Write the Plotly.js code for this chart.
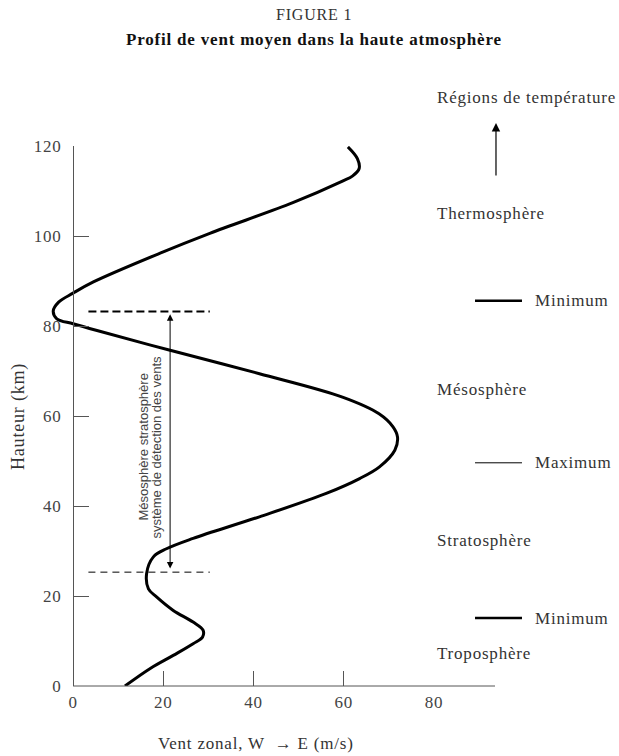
<!DOCTYPE html>
<html>
<head>
<meta charset="utf-8">
<script src="https://cdn.plot.ly/plotly-3.0.1.min.js"></script>
<style>
html,body{margin:0;padding:0;background:#fff;}
#chart{width:619px;height:756px;}
text.annotation-text[style*="Serif"], .xtick text, .ytick text { letter-spacing: 0.8px; }
</style>
</head>
<body>
<div id="chart"></div>
<script>
// ---- Data ----
// Mean zonal wind profile (altitude in km, wind in m/s, W -> E positive)
const heightKm = [0, 3.9, 6.8, 9.4, 10.9, 12.4, 14.2, 16.8, 19.8, 21.6, 25.0, 28.7, 30.5, 32.8, 37.6, 42.8, 46.1, 48.7, 52.4, 55.3, 57.6, 60.5, 64.2, 69.4, 74.6, 79.0, 80.5, 81.6, 83.3, 85.3, 87.3, 89.8, 96.2, 100.6, 107.4, 112.2, 113.3, 115.0, 117.2, 119.8];
const windMs   = [11.5, 17.1, 22.2, 26.6, 28.7, 28.8, 26.6, 22.2, 18.5, 16.7, 16.3, 17.8, 20.7, 26.6, 41.3, 56.1, 63.5, 67.9, 71.3, 71.9, 70.9, 67.8, 59.7, 41.3, 21.5, 5.3, 0, -3.6, -4.4, -3.2, 0, 4.5, 19.3, 30.3, 48.7, 59.7, 61.9, 63.4, 63.0, 60.9];

// Wind-detection system layers (dashed lines) and their span along the wind axis
const detectionTopKm = 83.2;
const detectionBottomKm = 25.3;
const detectionSpan = [3.4, 30.3];
const detectionArrowWind = 21.5;
const detectionLabel = ["Mésosphère stratosphère", "système de détection des vents"];
const detectionLabelWind = [15.5, 18.4];
const detectionLabelHeight = 53;

// Temperature regions (right side)
const tempLevelKm = [85.6, 49.6, 15.1];
const tempLevelName = ["Minimum", "Maximum", "Minimum"];
const tempLevelWidth = [2.5, 1, 2.5];
const regionName = ["Troposphère", "Stratosphère", "Mésosphère", "Thermosphère"];
const regionKm = [7.3, 32.4, 65.8, 105.1];

// Axes
const xTickVals = [0, 20, 40, 60, 80];
const xTickMarks = [20, 40, 60];
const yTickVals = [0, 20, 40, 60, 80, 100, 120];
const xRange = [-6, 93.5];
const yRange = [0, 120];

const serif = "Liberation Serif, Times New Roman, Serif";
const sans = "Liberation Sans, Arial, sans-serif";
const txt = "#333";
const axc = "#555";

const traces = [
  { x: windMs, y: heightKm, mode: "lines", line: {color: "#000", width: 3, shape: "spline", smoothing: 1},
    hoverinfo: "skip", showlegend: false },
  { x: detectionSpan, y: [detectionTopKm, detectionTopKm], mode: "lines",
    line: {color: "#000", width: 2, dash: "8px,4px"}, hoverinfo: "skip", showlegend: false },
  { x: detectionSpan, y: [detectionBottomKm, detectionBottomKm], mode: "lines",
    line: {color: "#000", width: 1, dash: "7px,5px"}, hoverinfo: "skip", showlegend: false },
  { x: [null], y: [null], xaxis: "x2", mode: "lines", hoverinfo: "skip", showlegend: false }
];

const annotations = [
  {text: "FIGURE 1", xref: "paper", yref: "paper", x: 0.597, y: 1.2444, xanchor: "center", yanchor: "middle", showarrow: false,
   font: {family: serif, size: 16, color: txt}},
  {text: "<b>Profil de vent moyen dans la haute atmosphère</b>", xref: "paper", yref: "paper", x: 0.597, y: 1.1963,
   xanchor: "center", yanchor: "middle", showarrow: false,
   font: {family: serif, size: 17, color: "#111"}},
  {text: "Hauteur (km)", xref: "paper", yref: "paper", x: -0.0624, y: 0.5, xanchor: "center", yanchor: "middle",
   textangle: -90, showarrow: false, font: {family: serif, size: 18, color: txt}},
  {text: "Vent zonal, W  → E (m/s)", xref: "paper", yref: "paper", x: 0.468, y: -0.1056, xanchor: "center", yanchor: "middle",
   showarrow: false, font: {family: serif, size: 17, color: txt}},
  {text: "Régions de température", xref: "paper", yref: "paper", x: 0.8664, y: 1.0907, xanchor: "left", yanchor: "middle",
   showarrow: false, font: {family: serif, size: 17, color: txt}},
  {text: "", xref: "paper", yref: "paper", x: 1.0022, y: 1.0426, ax: 0, ay: 54, showarrow: true,
   arrowhead: 2, arrowsize: 1.4, arrowwidth: 1.2, arrowcolor: "#000"},
  {text: "", x: detectionArrowWind, y: detectionTopKm - 0.6, ax: detectionArrowWind, ay: detectionBottomKm + 0.5,
   axref: "x", ayref: "y", showarrow: true, arrowside: "end+start", arrowhead: 2, arrowsize: 1.3, arrowwidth: 1, arrowcolor: "#000"}
];
detectionLabel.forEach((t, i) => annotations.push({
  text: t, x: detectionLabelWind[i], y: detectionLabelHeight, xanchor: "center", yanchor: "middle",
  textangle: -90, showarrow: false, font: {family: sans, size: 13, color: "#444"}
}));
regionName.forEach((t, i) => annotations.push({
  text: t, xref: "paper", x: 0.8664, y: regionKm[i], xanchor: "left", yanchor: "middle", showarrow: false,
  font: {family: serif, size: 17, color: txt}
}));
tempLevelName.forEach((t, i) => annotations.push({
  text: t, xref: "paper", x: 1.0846, y: tempLevelKm[i], xanchor: "left", yanchor: "middle", showarrow: false,
  font: {family: serif, size: 17, color: txt}
}));

const shapes = [
  {type: "line", xref: "x", yref: "paper", x0: 0, x1: xRange[1], y0: 0, y1: 0, line: {color: axc, width: 1}}
];
tempLevelKm.forEach((v, i) => shapes.push({
  type: "line", xref: "paper", yref: "y", x0: 0.9555, x1: 1.0601, y0: v, y1: v,
  line: {color: "#000", width: tempLevelWidth[i]}
}));

const layout = {
  width: 619, height: 756,
  margin: {l: 46, r: 124, t: 146, b: 70},
  paper_bgcolor: "#fff", plot_bgcolor: "#fff",
  showlegend: false,
  xaxis: {range: xRange, showline: false, showgrid: false, zeroline: false,
    tickvals: xTickVals, ticks: "", ticklabelstandoff: 4, tickfont: {family: serif, size: 17, color: "#444"}},
  xaxis2: {range: xRange, overlaying: "x", anchor: "y", side: "bottom", showline: false, showgrid: false, zeroline: false,
    tickvals: xTickMarks, ticks: "inside", ticklen: 15, tickcolor: axc, tickwidth: 1, showticklabels: false},
  yaxis: {range: yRange, anchor: "free", position: 6 / 99.5, showline: true, linecolor: axc, linewidth: 1,
    showgrid: false, zeroline: false, tickvals: yTickVals, ticks: "inside", ticklen: 15, tickcolor: axc,
    ticklabelstandoff: 8, tickfont: {family: serif, size: 17, color: "#444"}},
  annotations: annotations,
  shapes: shapes
};

Plotly.newPlot("chart", traces, layout, {staticPlot: true, displayModeBar: false});
</script>
</body>
</html>
